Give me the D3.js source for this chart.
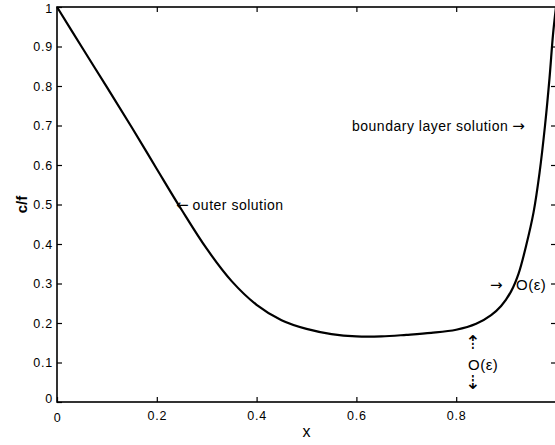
<!DOCTYPE html>
<html><head><meta charset="utf-8">
<script src="https://cdn.jsdelivr.net/npm/d3@7"></script>
<style>
html,body{margin:0;padding:0;background:#fff;}
text{font-family:"Liberation Sans",Arial,Helvetica,sans-serif;fill:#000;}
</style></head>
<body>
<svg id="chart" width="555" height="445"></svg>
<script>
// Curve data (x, c/f)
const xs = [0, 0.05, 0.10, 0.15, 0.20, 0.25, 0.30, 0.35, 0.40, 0.45, 0.50, 0.55, 0.60, 0.65, 0.70, 0.75, 0.80, 0.84, 0.87, 0.89, 0.91, 0.925, 0.94, 0.955, 0.967, 0.978, 0.987, 0.994, 1.0];
const ys = [1.0, 0.898, 0.797, 0.695, 0.590, 0.486, 0.388, 0.306, 0.246, 0.207, 0.185, 0.172, 0.166, 0.166, 0.170, 0.175, 0.183, 0.198, 0.220, 0.243, 0.280, 0.325, 0.395, 0.480, 0.580, 0.700, 0.820, 0.930, 1.0];
const xTicks = [0, 0.2, 0.4, 0.6, 0.8];
const xTickLabels = ["0", "0.2", "0.4", "0.6", "0.8"];
const yTicks = [0, 0.1, 0.2, 0.3, 0.4, 0.5, 0.6, 0.7, 0.8, 0.9, 1];
const yTickLabels = ["0", "0.1", "0.2", "0.3", "0.4", "0.5", "0.6", "0.7", "0.8", "0.9", "1"];

const L = 57, R = 556, T = 7, B = 402;
const svg = d3.select("#chart");
const x = d3.scaleLinear().domain([0, 1]).range([L, R]);
const y = d3.scaleLinear().domain([0, 1]).range([B, T]);

// frame
svg.append("rect").attr("x", L).attr("y", T).attr("width", R - L).attr("height", B - T)
  .attr("fill", "none").attr("stroke", "#000").attr("stroke-width", 1.6);

const tl = 5;
// bottom axis
const gB = svg.append("g").attr("transform", `translate(0,${B})`)
  .call(d3.axisBottom(x).tickValues(xTicks).tickSize(-tl).tickPadding(9)
    .tickFormat((d, i) => xTickLabels[i]));
gB.select(".domain").remove();
gB.selectAll("line").attr("stroke", "#000").attr("stroke-width", 1.2);
gB.selectAll("text").style("font-size", "12.5px").style("letter-spacing", "0.8px");
gB.selectAll(".tick").filter(d => d === 0).select("text").attr("dy", "0.9em");

// top ticks
const gT = svg.append("g").attr("transform", `translate(0,${T})`)
  .call(d3.axisTop(x).tickValues(xTicks.slice(1)).tickSize(-tl).tickFormat(""));
gT.select(".domain").remove();
gT.selectAll("line").attr("stroke", "#000").attr("stroke-width", 1.2);

// left axis
const gL = svg.append("g").attr("transform", `translate(${L},0)`)
  .call(d3.axisLeft(y).tickValues(yTicks).tickSize(-tl).tickPadding(4)
    .tickFormat((d, i) => yTickLabels[i]));
gL.select(".domain").remove();
gL.selectAll("line").attr("stroke", "#000").attr("stroke-width", 1.2);
gL.selectAll("text").style("font-size", "12.5px").style("letter-spacing", "0.8px");
gL.selectAll(".tick").filter(d => d === 0).select("text").attr("dy", "0.05em");
gL.selectAll(".tick").filter(d => d === 1).select("text").attr("dy", "0.45em");

// right ticks
const gR = svg.append("g").attr("transform", `translate(${R},0)`)
  .call(d3.axisRight(y).tickValues(yTicks.slice(1, -1)).tickSize(-tl).tickFormat(""));
gR.select(".domain").remove();
gR.selectAll("line").attr("stroke", "#000").attr("stroke-width", 1.2);

// curve
const pts = xs.map((v, i) => [v, ys[i]]);
svg.append("path").datum(pts)
  .attr("fill", "none").attr("stroke", "#000").attr("stroke-width", 2.2)
  .attr("d", d3.line().x(d => x(d[0])).y(d => y(d[1])).curve(d3.curveCatmullRom.alpha(0.5)));

// axis labels
svg.append("text").attr("x", (L + R) / 2).attr("y", 437).attr("text-anchor", "middle")
  .style("font-size", "16px").text("x");
svg.append("text").attr("transform", `translate(27,${y(0.5)}) rotate(-90)`)
  .attr("text-anchor", "middle").style("font-size", "15px").style("font-weight", "bold").text("c/f");

// annotations
const ann = svg.append("g").style("font-size", "14px").style("letter-spacing", "0.5px");
const arrowFont = "DejaVu Sans";
const t1 = ann.append("text").attr("x", 176).attr("y", 210);
t1.append("tspan").style("font-family", arrowFont).style("font-size", "15px").style("letter-spacing", "0").text("\u2190");
t1.append("tspan").attr("dx", 4).text("outer solution");

const t2 = ann.append("text").attr("x", 352).attr("y", 131);
t2.append("tspan").text("boundary layer solution");
t2.append("tspan").attr("dx", 4).style("font-family", arrowFont).style("font-size", "15px").style("letter-spacing", "0").text("\u2192");

ann.append("text").attr("x", 490).attr("y", 290).style("font-family", arrowFont)
  .style("font-size", "15px").style("letter-spacing", "0").text("\u2192");
ann.append("text").attr("x", 516).attr("y", 290).style("font-size", "15px").text("O(\u03b5)");
ann.append("text").attr("x", 473).attr("y", 349).attr("text-anchor", "middle")
  .style("font-family", arrowFont).style("font-size", "19px").style("letter-spacing", "0").text("\u21e1");
ann.append("text").attr("x", 468).attr("y", 370).style("font-size", "15px").text("O(\u03b5)");
ann.append("text").attr("x", 473).attr("y", 389).attr("text-anchor", "middle")
  .style("font-family", arrowFont).style("font-size", "19px").style("letter-spacing", "0").text("\u21e3");
</script>
</body></html>
